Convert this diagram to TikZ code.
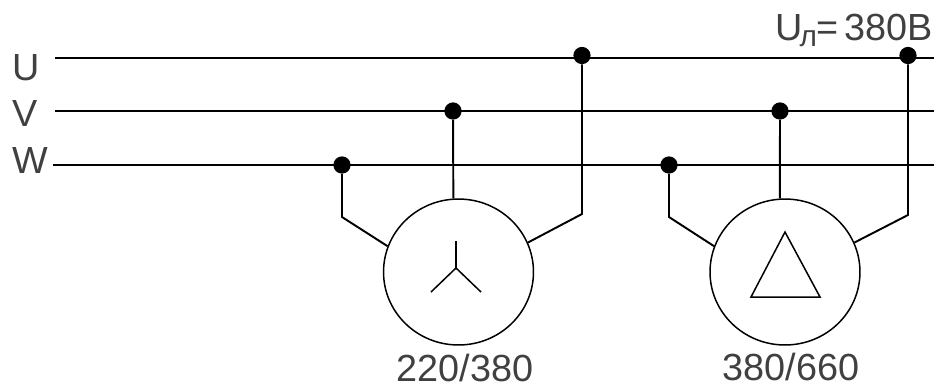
\documentclass[tikz,border=0pt]{standalone}
\usepackage{fontspec}
\setmainfont{Liberation Sans}
\usetikzlibrary{shapes.geometric}
\tikzset{
  wire/.style={line width=1.1pt},
  thinwire/.style={line width=0.85pt},
  joint/.style={circle,fill=black,inner sep=0pt,minimum size=0.345cm},
  motor/.style={ellipse,draw,line width=0.85pt,inner sep=0pt,minimum width=3cm,minimum height=2.92cm},
  lbl/.style={anchor=base,inner sep=0pt,font=\fontsize{21.5}{24}\selectfont,text=black!75}
}
\begin{document}
\begin{tikzpicture}[x=0.02cm,y=-0.02cm]
\useasboundingbox (0,0) rectangle (937,387);

\node[lbl] (labelU) at (26,80) {U};
\node[lbl] (labelV) at (25,126) {V};
\node[lbl] (labelW) at (30,173) {W};
\node[lbl,anchor=base east] (labelUl) at (933,40) {U\kern-1.5pt\raisebox{-0.16em}{\fontsize{17}{17}\selectfont л}\kern-0.5pt=\kern3.5pt 380В};

\coordinate (startU) at (55,58);
\coordinate (startV) at (55,111);
\coordinate (startW) at (53,165);
\coordinate (endU) at (934,58);
\coordinate (endV) at (934,111);
\coordinate (endW) at (934,165);
\foreach \a in {U,V,W} {\draw[wire] (start\a) -- (end\a);}

\node[joint] (dotWa) at (342,165) {};
\node[joint] (dotVa) at (453,111) {};
\node[joint] (dotUa) at (582,55.5) {};
\node[joint] (dotWb) at (669,165) {};
\node[joint] (dotVb) at (780,111) {};
\node[joint] (dotUb) at (908,55.5) {};

\node[motor] (motorA) at (458.5,272) {};
\node[motor] (motorB) at (785,272) {};

\coordinate (bendWa) at (342,217);
\coordinate (bendUa) at (582,214);
\coordinate (bendWb) at (669,217);
\coordinate (bendUb) at (908,215);

\draw[wire] (dotWa) -- (bendWa) -- (motorA.160);
\draw[wire] (dotVa) -- (motorA.94);
\draw[wire] (dotUa) -- (bendUa) -- (motorA.23);
\draw[wire] (dotWb) -- (bendWb) -- (motorB.160);
\draw[wire] (dotVb) -- (motorB.94);
\draw[wire] (dotUb) -- (bendUb) -- (motorB.23);

% star
\coordinate (starO) at (456,268);
\coordinate (starT) at (456,241);
\coordinate (starL) at (431,292);
\coordinate (starR) at (481,292);
\foreach \a in {T,L,R} {\draw[thinwire] (starO) -- (star\a);}

% triangle
\coordinate (triT) at (785,232);
\coordinate (triL) at (751,297);
\coordinate (triR) at (820,297);
\draw[thinwire] (triT) -- (triL) -- (triR) -- cycle;

\node[lbl] (ratingA) at (465,381.5) {220/380};
\node[lbl] (ratingB) at (791,380.5) {380/660};

\end{tikzpicture}
\end{document}
